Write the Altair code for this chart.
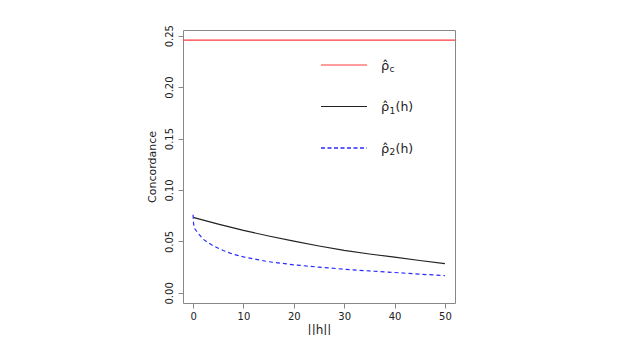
import altair as alt
import pandas as pd

# ----- data -----
rho_c = 0.2457

h1 = [0, 5, 10, 15, 20, 25, 30, 35, 40, 45, 50]
rho1 = [0.0734, 0.0668, 0.0607, 0.0553, 0.0503, 0.0456, 0.0414, 0.0378, 0.0347, 0.0315, 0.0284]

h2 = [0, 0.1, 0.3, 1, 2, 3, 4, 6, 8, 10, 12.5, 15, 20, 25, 30, 35, 40, 45, 50]
rho2 = [0.0760, 0.0670, 0.0625, 0.0580, 0.0522, 0.0488, 0.0458, 0.0412, 0.0375, 0.0350, 0.0326,
        0.0303, 0.0273, 0.0250, 0.0230, 0.0213, 0.0198, 0.0182, 0.0168]

x_ticks = [0, 10, 20, 30, 40, 50]
y_ticks = [0.0, 0.05, 0.10, 0.15, 0.20, 0.25]

legend_main = ["ρ̂", "ρ̂", "ρ̂"]
legend_sub = ["c", "1", "2"]
legend_tail = ["", "(h)", "(h)"]
legend_colors = ["#ff3b3b", "#222222", "#2a2aff"]

FONT = "DejaVu Sans"
W, H = 272, 273

df1 = pd.DataFrame({"h": h1, "rho": rho1})
df2 = pd.DataFrame({"h": h2, "rho": rho2})
dfc = pd.DataFrame({"rho": [rho_c]})

xs = alt.Scale(domain=[-2, 52], nice=False, zero=False)
ys = alt.Scale(domain=[-0.00983, 0.2555], nice=False, zero=False)

xaxis = alt.Axis(values=x_ticks, title="||h||", format="d", grid=False, domain=False,
                 tickColor="#888", tickSize=5, labelPadding=3, labelFontSize=10,
                 labelColor="#222", titleFontSize=12, titleFontWeight="normal",
                 titleColor="#222", titlePadding=3, labelFont=FONT, titleFont=FONT)
yaxis = alt.Axis(values=y_ticks, title="Concordance", format=".2f", grid=False, domain=False,
                 tickColor="#888", tickSize=5, labelPadding=4, labelFontSize=10,
                 labelAngle=270, labelAlign="center", labelBaseline="bottom",
                 labelColor="#222", titleFontSize=11, titleFontWeight="normal",
                 titleColor="#222", titlePadding=7, labelFont=FONT, titleFont=FONT)

red = alt.Chart(dfc).mark_rule(strokeWidth=1.4).encode(
    y=alt.Y("rho:Q", scale=ys, axis=yaxis), color=alt.value(legend_colors[0]))

black = alt.Chart(df1).mark_line(strokeWidth=1.2).encode(
    x=alt.X("h:Q", scale=xs, axis=xaxis), y=alt.Y("rho:Q", scale=ys),
    color=alt.value(legend_colors[1]))

blue = alt.Chart(df2).mark_line(strokeWidth=1.2, strokeDash=[4, 3]).encode(
    x=alt.X("h:Q", scale=xs), y=alt.Y("rho:Q", scale=ys),
    color=alt.value(legend_colors[2]))

# ----- manual legend (pixel positions inside plot area) -----
lx1, lx2 = 138, 184
rows = [35, 76.5, 118]

legs = [
    alt.Chart(dfc).mark_rule(strokeWidth=1.2).encode(
        x=alt.value(lx1), x2=alt.value(lx2), y=alt.value(rows[0]),
        color=alt.value(legend_colors[0])),
    alt.Chart(dfc).mark_rule(strokeWidth=1.2).encode(
        x=alt.value(lx1), x2=alt.value(lx2), y=alt.value(rows[1]),
        color=alt.value(legend_colors[1])),
    alt.Chart(dfc).mark_rule(strokeWidth=1.3, strokeDash=[4, 2.5]).encode(
        x=alt.value(lx1), x2=alt.value(lx2), y=alt.value(rows[2]),
        color=alt.value(legend_colors[2])),
]
for i in range(3):
    legs.append(alt.Chart(dfc).mark_text(text=legend_main[i], font=FONT, fontSize=13, align="left",
                                         baseline="middle").encode(
        x=alt.value(198), y=alt.value(rows[i] + 0.5), color=alt.value("#222")))
    legs.append(alt.Chart(dfc).mark_text(text=legend_sub[i], font=FONT, fontSize=9, align="left",
                                         baseline="middle").encode(
        x=alt.value(206.5), y=alt.value(rows[i] + 4), color=alt.value("#222")))
    if legend_tail[i]:
        legs.append(alt.Chart(dfc).mark_text(text=legend_tail[i], font=FONT, fontSize=12.5, align="left",
                                             baseline="middle").encode(
            x=alt.value(212.5), y=alt.value(rows[i] + 0.5), color=alt.value("#222")))

chart = alt.layer(red, black, blue, *legs).properties(
    width=W, height=H,
    autosize=alt.AutoSizeParams(type="none"),
    padding={"left": 175, "top": 22, "right": 150, "bottom": 32},
).configure_view(stroke="#888", strokeWidth=1)

chart.save("out.html", embed_options={"renderer": "svg", "actions": False})
